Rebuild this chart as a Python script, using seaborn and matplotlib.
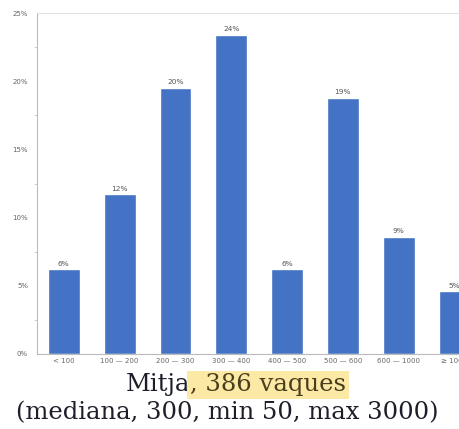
import matplotlib
matplotlib.use("Agg")
import matplotlib.pyplot as plt
import seaborn as sns
import pandas as pd
from matplotlib.ticker import MultipleLocator, FuncFormatter

categories = ["< 100", "100 — 200", "200 — 300", "300 — 400", "400 — 500", "500 — 600", "600 — 1000", "≥ 1000"]
values = [6.2, 11.7, 19.5, 23.4, 6.2, 18.8, 8.6, 4.6]
bar_labels = ["6%", "12%", "20%", "24%", "6%", "19%", "9%", "5%"]

sns.set_style("white")
plt.rcParams['font.family'] = ['DejaVu Sans']

df = pd.DataFrame({"cat": categories, "val": values})

W, H = 459, 429
fig = plt.figure(figsize=(W/100, H/100), dpi=100)
ax = fig.add_axes([37/W, 1-354/H, 1-37/W, (354-13)/H])

sns.barplot(data=df, x="cat", y="val", color="#4472C4", width=0.57, ax=ax, saturation=1)
for p in ax.patches:
    p.set_clip_on(True)

ax.set_xlim(-0.48, 7.08)
ax.set_ylim(0, 25)
ax.yaxis.set_major_locator(MultipleLocator(5))
ax.yaxis.set_minor_locator(MultipleLocator(2.5))
ax.yaxis.set_major_formatter(FuncFormatter(lambda v, p: f"{int(v)}%"))
ax.set_xlabel("")
ax.set_ylabel("")
ax.tick_params(axis='both', which='major', labelsize=5, labelcolor="#666666", colors="#aaaaaa", length=3, width=0.6, direction='out')
ax.tick_params(axis='y', which='minor', length=2, width=0.5, color="#bbbbbb", left=True)
ax.tick_params(axis='x', length=0, pad=3)
for s in ["left", "bottom"]:
    ax.spines[s].set_color("#bbbbbb")
    ax.spines[s].set_linewidth(0.8)
ax.spines["right"].set_visible(False)
ax.spines["top"].set_visible(True)
ax.spines["top"].set_color("#dddddd")
ax.spines["top"].set_linewidth(0.6)

for i, (v, lab) in enumerate(zip(values, bar_labels)):
    ax.text(i, v + 0.2, lab, ha="center", va="bottom", fontsize=5.3, color="#555555")

fs = 17.5
fam = "DejaVu Serif"
xsplit = 190/W
fig.text(xsplit, 1-385/H, "Mitja", ha="right", va="center", fontsize=fs, family=fam, color="#1e1e2a")
fig.text(xsplit, 1-385/H, ", 386 vaques", ha="left", va="center", fontsize=fs, family=fam, color="#4a3f1c",
         bbox=dict(boxstyle="square,pad=0.12", facecolor="#fde9a6", edgecolor="none"))
fig.text(0.495, 1-413/H, "(mediana, 300, min 50, max 3000)", ha="center", va="center", fontsize=fs, family=fam, color="#1e1e2a")

fig.savefig("out.png", dpi=100)
